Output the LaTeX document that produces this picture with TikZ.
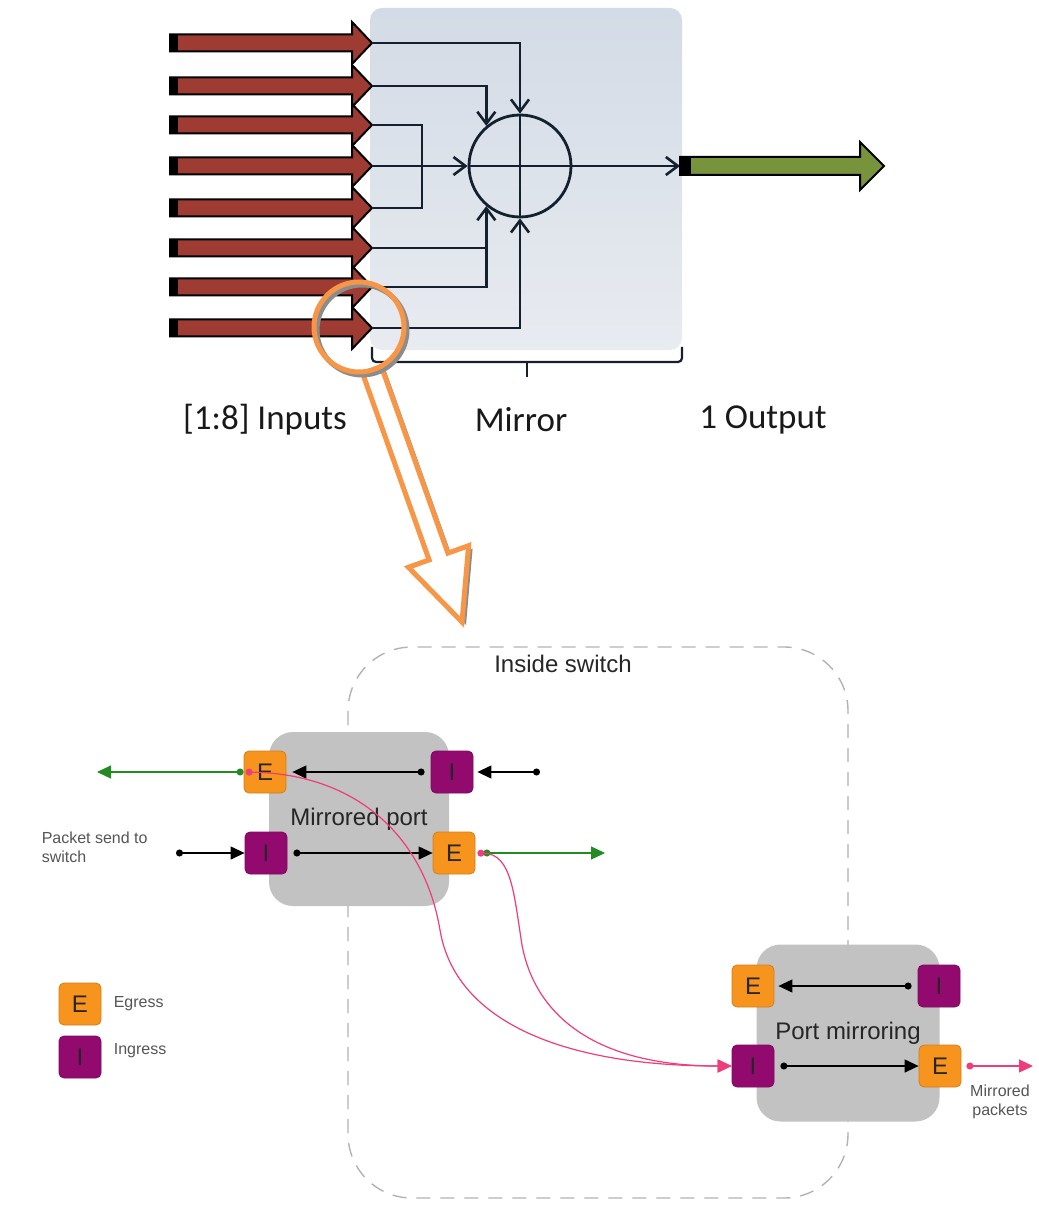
\documentclass[tikz,border=0pt]{standalone}
\usepackage{fontspec}
\setmainfont{Liberation Sans}
\newfontfamily\calfont{Carlito}
\usepackage{tikz}
\usetikzlibrary{arrows.meta, positioning, calc}

\definecolor{wirec}{HTML}{15202E}
\definecolor{inc}{HTML}{9E3B33}
\definecolor{outc}{HTML}{77933C}
\definecolor{boxtop}{HTML}{D3DBE6}
\definecolor{boxmid}{HTML}{B7C4D4}
\definecolor{boxbot}{HTML}{E8EBF0}
\definecolor{ringc}{HTML}{F79646}
\definecolor{egc}{HTML}{F7941D}
\definecolor{ingc}{HTML}{930A6E}
\definecolor{hostc}{HTML}{C2C2C2}
\definecolor{greenc}{HTML}{228B22}
\definecolor{pinkc}{HTML}{F03C78}
\definecolor{notec}{HTML}{555555}

\begin{document}
\begin{tikzpicture}[x=0.5pt, y=-0.5pt, >={Straight Barb[length=6pt,width=9pt,line width=1.3pt]},
  wire/.style={draw=wirec, line width=1.4pt},
  inarrow/.style={draw=black, line width=1pt, fill=inc, line join=miter},
  toplbl/.style={font=\calfont\fontsize{17.5}{20}\selectfont, text=black!90},
  port/.style={rectangle, rounded corners=2.5pt, minimum width=21pt, minimum height=21pt,
    inner sep=0pt, font=\fontsize{12}{14}\selectfont, text=black!85},
  eg/.style={port, fill=egc, draw=egc!85!black},
  ing/.style={port, fill=ingc, draw=ingc!85!black},
  hostbox/.style={rectangle, rounded corners=12pt, fill=hostc, minimum width=90pt,
    minimum height=87pt, font=\fontsize{12}{14}\selectfont, text=black!85},
  flow/.style={line width=0.6pt, black, arrows={Circle[length=3.5pt]-Triangle[length=7pt,width=6.5pt]}},
  gflow/.style={line width=0.6pt, greenc, arrows={Circle[length=3.5pt]-Triangle[length=7pt,width=6.5pt]}},
  pflow/.style={line width=0.6pt, pinkc, arrows={Circle[length=3.5pt]-Triangle[length=7pt,width=6.5pt]}},
  note/.style={font=\fontsize{8}{9.5}\selectfont, text=notec, inner sep=1pt}]
  \useasboundingbox (0,0) rectangle (1038,1218);

  \shade[rounded corners=6pt, top color=boxtop, middle color=boxmid, bottom color=boxbot] (370,8) rectangle (682,350);
  \node[circle, draw=wirec, line width=1.4pt, minimum size=51pt, inner sep=0pt] (mix) at (520,166) {};

  \foreach \y [count=\i] in {43,86,125,166,208,248,287,328} {
    \draw[inarrow] (170,\y-8.5) -- (352,\y-8.5) -- (352,\y-21) -- (372,\y) -- (352,\y+21) -- (352,\y+8.5) -- (170,\y+8.5) -- cycle;
    \fill (170,\y-8.5) rectangle (178,\y+8.5);
    \coordinate (in\i) at (372,\y);
  }
  \coordinate (jn) at (422,166);
  \coordinate (outp) at (680,166);

  \draw[wire,->] (in1) -| (mix.north);
  \draw[wire,->] (in2) -| (mix.130);
  \draw[wire] (in3) -| (jn) |- (in5);
  \draw[wire,->] (in4) -- (mix.west);
  \draw[wire] (in6) -- (in6 -| mix.230);
  \draw[wire,->] (in7) -| (mix.230);
  \draw[wire,->] (in8) -| (mix.south);
  \draw[wire] (mix.north) -- (mix.south) (mix.west) -- (mix.east);
  \draw[wire,->] (mix.east) -- (outp);

  \draw[black, line width=1pt, fill=outc] (680,157) -- (860,157) -- (860,142) -- (884,166) -- (860,190) -- (860,175) -- (680,175) -- cycle;
  \fill (680,157) rectangle (691,175);

  \draw[wire, line width=1.1pt, rounded corners=2pt] (372,347) -- (372,362) -- (682,362) -- (682,347);
  \draw[wire, line width=1.1pt] (527,362) -- (527,377);

  \node[toplbl] (lblIn) at (265,420) {[1:8] Inputs};
  \node[toplbl] (lblMir) at (521,420) {Mirror};
  \node[toplbl] (lblOut) at (763,420) {1 Output};

  \fill[black!45, shift={(4,3)}] (362.6,373.4) -- (429.1,559.9) -- (408.4,567.3) -- (462,622) -- (468.6,545.7) -- (447.9,553.1) -- (381.4,366.6) -- cycle;
  \draw[ringc, line width=2.5pt, fill=white, line join=miter] (362.6,373.4) -- (429.1,559.9) -- (408.4,567.3) -- (462,622) -- (468.6,545.7) -- (447.9,553.1) -- (381.4,366.6) -- cycle;
  \draw[black!45, line width=2.5pt] (362,330) circle[radius=45];
  \draw[ringc, line width=2.5pt] (359,327) circle[radius=45];

  \draw[black!30, line width=0.7pt, dash pattern=on 7pt off 5pt, rounded corners=32pt] (348,647) rectangle (848,1198);
  \node[font=\fontsize{12}{14}\selectfont, text=black!85] (insw) at (563,664) {Inside switch};

  \node[hostbox] (mp) at (359,819) {Mirrored port};
  \node[eg] (mpE1) at (265,772) {E};
  \node[ing] (mpI1) at (452,772) {I};
  \node[ing] (mpI2) at (266,853) {I};
  \node[eg] (mpE2) at (454,853) {E};
  \coordinate (mpIn1) at (540,772);
  \coordinate (mpOut1) at (97,772);
  \coordinate (mpIn2) at (176,853);
  \coordinate (mpOut2) at (605,853);

  \node[hostbox, minimum width=91.5pt, minimum height=88.5pt] (pm) at (848,1033) {Port mirroring};
  \node[eg] (pmE1) at (753,986) {E};
  \node[ing] (pmI1) at (939,986) {I};
  \node[ing] (pmI2) at (753,1066) {I};
  \node[eg] (pmE2) at (940,1066) {E};
  \coordinate (pmOut) at (1033,1066);

  \draw[flow, shorten <=3pt, shorten >=3pt] (mpI1.west) -- (mpE1.east);
  \draw[flow, shorten >=2pt] (mpIn1) -- (mpI1.east);
  \draw[flow] (mpIn2) -- (mpI2.west);
  \draw[flow, shorten <=3pt] (mpI2.east) -- (mpE2.west);
  \draw[gflow] (mpE1.west) -- (mpOut1);
  \draw[gflow, shorten <=4pt] (mpE2.east) -- (mpOut2);
  \draw[flow, shorten <=3pt, shorten >=2pt] (pmI1.west) -- (pmE1.east);
  \draw[flow, shorten <=3pt] (pmI2.east) -- (pmE2.west);
  \draw[pflow, shorten <=2.5pt] (pmE2.east) -- (pmOut);

  \coordinate (pbend1) at (440,930);
  \coordinate (pbend2) at (522,945);
  \draw[pflow, shorten <=1pt] (mpE1.west) .. controls (360,774) and (425,840) .. (pbend1) .. controls (455,1020) and (560,1066) .. (pmI2.west);
  \draw[pflow, shorten <=1pt] (mpE2.east) .. controls (512,854) and (514,895) .. (pbend2) .. controls (535,1015) and (595,1066) .. (pmI2.west);

  \node[note, anchor=east, align=left] (pktlbl) at (150,847) {Packet send to\\switch};
  \node[note, align=center] (mirlbl) at (1000,1102) {Mirrored\\packets};

  \node[eg] (lgE) at (80,1004) {E};
  \node[ing] (lgI) at (80,1057) {I};
  \node[note, right=5pt of lgE] (lgEt) {Egress};
  \node[note, right=5pt of lgI, yshift=3pt] (lgIt) {Ingress};
\end{tikzpicture}
\end{document}
